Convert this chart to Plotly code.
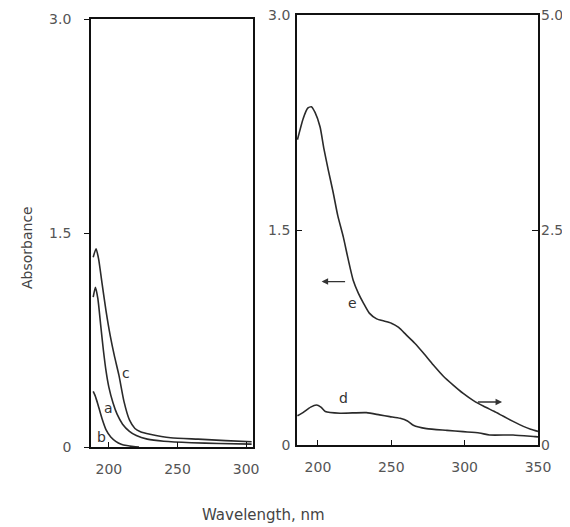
import plotly.graph_objects as go

# ---- data ----
wl_a = [188.6, 190.2, 192, 194, 196, 198, 200, 203, 206, 210, 215, 220, 228, 240, 260, 280, 304]
abs_a = [1.05, 1.12, 1.04, 0.86, 0.68, 0.53, 0.42, 0.31, 0.23, 0.16, 0.11, 0.08, 0.055, 0.04, 0.03, 0.025, 0.02]

wl_b = [188.6, 190, 192, 195, 198, 201.4, 205, 209, 213, 218, 222]
abs_b = [0.39, 0.36, 0.30, 0.20, 0.12, 0.07, 0.04, 0.02, 0.01, 0.003, 0.0]

wl_c = [188.6, 190.7, 192.5, 195, 198, 201, 204, 207.4, 211, 215, 219, 223, 230, 245, 265, 285, 304]
abs_c = [1.33, 1.39, 1.32, 1.15, 0.95, 0.78, 0.64, 0.50, 0.32, 0.19, 0.13, 0.107, 0.09, 0.065, 0.055, 0.045, 0.037]

wl_d = [186, 190, 195, 199, 202, 205, 215, 233, 242, 249, 256, 261, 265, 274, 288, 299, 310, 317, 333, 348, 350]
abs_d = [0.34, 0.38, 0.44, 0.465, 0.44, 0.39, 0.37, 0.376, 0.35, 0.33, 0.31, 0.28, 0.23, 0.19, 0.17, 0.155, 0.14, 0.116, 0.116, 0.097, 0.095]

wl_e = [186, 190, 193, 195.5, 198, 201.4, 204, 207, 210.4, 213.5, 217.3, 220.5, 224, 227.5, 231, 235, 240, 245, 250,
        255, 260, 266, 272, 278.5, 285.5, 292, 299, 306, 313, 320, 326.4, 333, 340, 345, 350]
abs_e = [2.13, 2.28, 2.35, 2.36, 2.32, 2.22, 2.07, 1.92, 1.76, 1.60, 1.45, 1.30, 1.15, 1.06, 0.99, 0.92, 0.88, 0.865, 0.85,
         0.82, 0.77, 0.71, 0.64, 0.56, 0.48, 0.42, 0.36, 0.31, 0.27, 0.235, 0.20, 0.165, 0.13, 0.11, 0.095]

x_ticks_left = [200, 250, 300]
x_ticks_right = [200, 250, 300, 350]
y_ticks = [0, 1.5, 3.0]
y_ticktext = ["0", "1.5", "3.0"]
y3_ticks = [0, 2.5, 5.0]
y3_ticktext = ["0", "2.5", "5.0"]

curve_color = "#2a2a2a"
frame_color = "#111111"
tick_font = dict(family="DejaVu Sans", size=14, color="#555555")

# the page places the figure 8 px in from the window's top-left corner
OFF = 8
W, H = 570 - OFF, 527 - OFF


def fx(px):
    return (px - OFF) / W


def fy(py):
    return 1 - (py - OFF) / H


fig = go.Figure()
line = dict(color=curve_color, width=1.6, shape="spline", smoothing=0.6)
fig.add_trace(go.Scatter(x=wl_a, y=abs_a, mode="lines", line=line, xaxis="x", yaxis="y", showlegend=False))
fig.add_trace(go.Scatter(x=wl_b, y=abs_b, mode="lines", line=line, xaxis="x", yaxis="y", showlegend=False))
fig.add_trace(go.Scatter(x=wl_c, y=abs_c, mode="lines", line=line, xaxis="x", yaxis="y", showlegend=False))
fig.add_trace(go.Scatter(x=wl_e, y=abs_e, mode="lines", line=line, xaxis="x2", yaxis="y2", showlegend=False))
fig.add_trace(go.Scatter(x=wl_d, y=abs_d, mode="lines", line=line, xaxis="x2", yaxis="y3", showlegend=False))

axis_common = dict(showline=True, linecolor=frame_color, linewidth=1.8, mirror=True,
                   showgrid=False, zeroline=False, tickfont=tick_font, ticklen=5,
                   tickcolor=frame_color, tickwidth=1, automargin=False, ticklabeloverflow="allow")

fig.update_layout(
    template="none",
    width=W, height=H,
    margin=dict(l=0, r=0, t=0, b=0, pad=0),
    paper_bgcolor="white", plot_bgcolor="white",
    xaxis=dict(domain=[fx(91), fx(253)], range=[187, 305], tickvals=x_ticks_left,
               ticks="inside", anchor="y", ticklabelstandoff=8, **axis_common),
    yaxis=dict(domain=[fy(447), fy(19)], range=[0, 3], tickvals=y_ticks, ticktext=y_ticktext,
               ticks="outside", anchor="x", ticklabelstandoff=10, **axis_common),
    xaxis2=dict(domain=[fx(297), fx(538)], range=[185.7, 350], tickvals=x_ticks_right,
                ticks="inside", anchor="y2", ticklabelstandoff=8, **axis_common),
    yaxis2=dict(domain=[fy(445), fy(15)], range=[0, 3], tickvals=y_ticks, ticktext=y_ticktext,
                ticks="inside", anchor="x2", ticklabelstandoff=2, **axis_common),
    yaxis3=dict(domain=[fy(445), fy(15)], range=[0, 5], tickvals=y3_ticks, ticktext=y3_ticktext,
                overlaying="y2", side="right", anchor="x2", ticks="inside", showline=False,
                showgrid=False, zeroline=False, tickfont=tick_font, ticklen=6, automargin=False,
                tickcolor=frame_color, ticklabelstandoff=2, ticklabeloverflow="allow"),
)

label_font = dict(family="DejaVu Sans", size=14, color="#333333")
labels = [
    ("c", 212.5, 0.52, "x", "y"),
    ("a", 199.5, 0.27, "x", "y"),
    ("b", 194.5, 0.07, "x", "y"),
    ("e", 223.5, 0.99, "x2", "y2"),
    ("d", 217.5, 0.33, "x2", "y2"),
]
for txt, xv, yv, xr, yr in labels:
    fig.add_annotation(x=xv, y=yv, xref=xr, yref=yr, text=txt, showarrow=False, font=label_font)

# arrows (left-pointing for e, right-pointing for d)
fig.add_annotation(x=202.5, y=1.14, ax=219.5, ay=1.14, xref="x2", yref="y2", axref="x2", ayref="y2",
                   text="", showarrow=True, arrowhead=2, arrowsize=1, arrowwidth=1.3, arrowcolor="#333333")
fig.add_annotation(x=325.5, y=0.30, ax=308, ay=0.30, xref="x2", yref="y2", axref="x2", ayref="y2",
                   text="", showarrow=True, arrowhead=2, arrowsize=1, arrowwidth=1.3, arrowcolor="#333333")

fig.add_annotation(x=fx(27), y=fy(248), xref="paper", yref="paper", text="Absorbance", showarrow=False,
                   xanchor="center", yanchor="middle",
                   textangle=-90, font=dict(family="DejaVu Sans", size=14, color="#444444"))
fig.add_annotation(x=fx(263), y=fy(515), xref="paper", yref="paper", text="Wavelength, nm", showarrow=False,
                   xanchor="center", yanchor="middle",
                   font=dict(family="DejaVu Sans", size=15, color="#444444"))

fig.write_html("out.html")
